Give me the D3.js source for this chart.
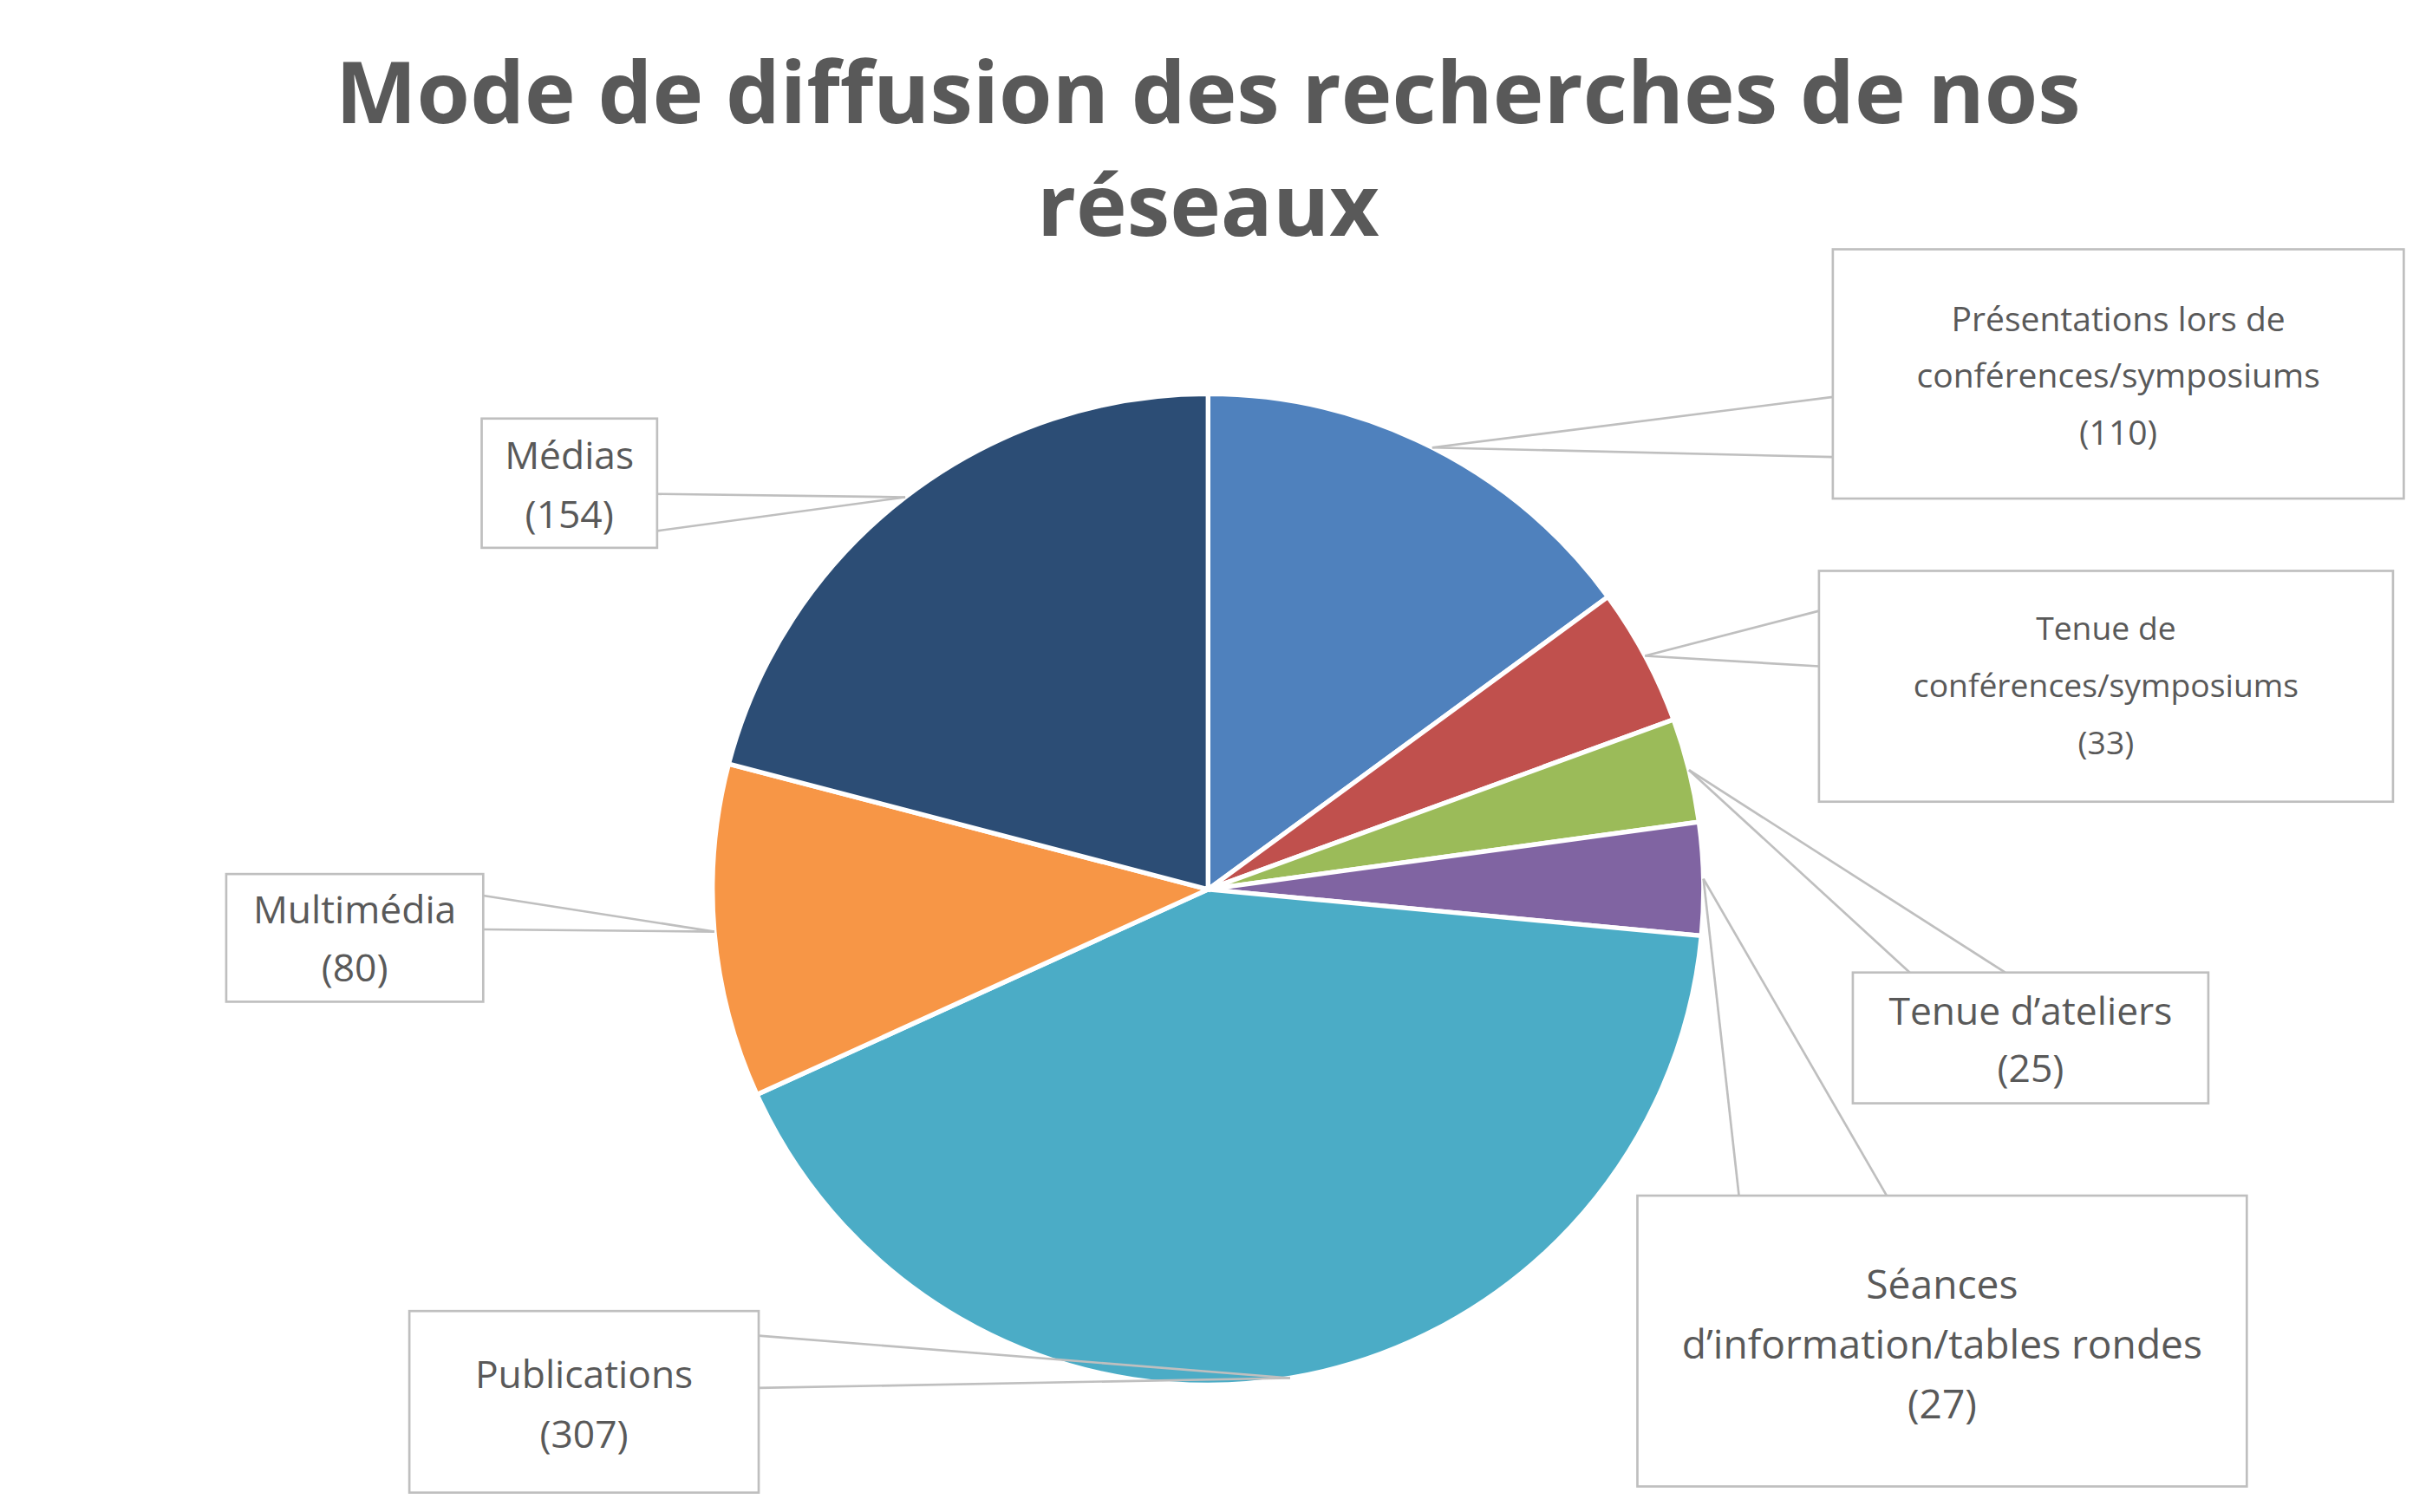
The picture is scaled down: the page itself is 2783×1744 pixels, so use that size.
<!DOCTYPE html>
<html><head><meta charset="utf-8">
<script src="https://cdn.jsdelivr.net/npm/d3@7"></script>
<style>html,body{margin:0;background:#fff}</style>
</head><body><div id="chart"></div>
<script>
var categories = ['Présentations lors de conférences/symposiums', 'Tenue de conférences/symposiums', 'Tenue d’ateliers',
  'Séances d’information/tables rondes', 'Publications', 'Multimédia', 'Médias'];
var values = [110, 33, 25, 27, 307, 80, 154];
var colors = ['#4F81BD', '#C0504D', '#9BBB59', '#8064A2', '#4BACC6', '#F79646', '#2C4D75'];
var labelLines = [
  ['Présentations lors de', 'conférences/symposiums', '(110)'],
  ['Tenue de', 'conférences/symposiums', '(33)'],
  ['Tenue d’ateliers', '(25)'],
  ['Séances', 'd’information/tables rondes', '(27)'],
  ['Publications', '(307)'],
  ['Multimédia', '(80)'],
  ['Médias', '(154)']
];
// label box layout: x0,y0,x1,y1, font size, first baseline, line gap, two attach points
var boxes = [
  {b:[1191,162,1562,324], fs:22, y:215, gap:37, a:[[1191,258],[1191,297]]},
  {b:[1182,371,1555,521], fs:21, y:416, gap:37, a:[[1182,397],[1182,433]]},
  {b:[1204,632,1435,717], fs:25, y:666, gap:37, a:[[1241,632],[1303,632]]},
  {b:[1064,777,1460,966], fs:26, y:844, gap:39, a:[[1130,777],[1226,777]]},
  {b:[266,852,493,970], fs:25, y:902, gap:39, a:[[493,868],[493,902]]},
  {b:[147,568,314,651], fs:25, y:600, gap:38, a:[[314,582],[314,604]]},
  {b:[313,272,427,356], fs:25, y:305, gap:38, a:[[427,321],[427,345]]}
];

var W = 1568, H = 982.6, cx = 785, cy = 578, R = 322;
var svg = d3.select('#chart').append('svg')
  .attr('width', 2783).attr('height', 1744)
  .attr('viewBox', '0 0 ' + W + ' ' + H)
  .style('font-family', '"Open Sans", sans-serif');

svg.append('text').attr('x', cx).attr('y', 80).attr('text-anchor', 'middle')
  .attr('font-size', 56).attr('font-weight', 700).attr('fill', '#595959')
  .text('Mode de diffusion des recherches de nos');
svg.append('text').attr('x', cx).attr('y', 153).attr('text-anchor', 'middle')
  .attr('font-size', 56).attr('font-weight', 700).attr('fill', '#595959')
  .text('réseaux');

var pie = d3.pie().sort(null).value(function(d){ return d; });
var arcs = pie(values);
var arc = d3.arc().innerRadius(0).outerRadius(R);

var g = svg.append('g').attr('transform', 'translate(' + cx + ',' + cy + ')');
g.selectAll('path').data(arcs).enter().append('path')
  .attr('d', arc)
  .attr('fill', function(d, i){ return colors[i]; })
  .attr('stroke', '#fff').attr('stroke-width', 3);

arcs.forEach(function(d, i) {
  var m = (d.startAngle + d.endAngle) / 2;
  var px = cx + Math.sin(m) * R, py = cy - Math.cos(m) * R;
  var bx = boxes[i];
  bx.a.forEach(function(p) {
    svg.append('line').attr('x1', px).attr('y1', py).attr('x2', p[0]).attr('y2', p[1])
      .attr('stroke', '#bfbfbf').attr('stroke-width', 1.5);
  });
  svg.append('rect').attr('x', bx.b[0]).attr('y', bx.b[1])
    .attr('width', bx.b[2] - bx.b[0]).attr('height', bx.b[3] - bx.b[1])
    .attr('fill', '#fff').attr('stroke', '#bfbfbf').attr('stroke-width', 1.5);
  var mx = (bx.b[0] + bx.b[2]) / 2;
  labelLines[i].forEach(function(t, j) {
    svg.append('text').attr('x', mx).attr('y', bx.y + j * bx.gap)
      .attr('text-anchor', 'middle').attr('font-size', bx.fs).attr('fill', '#595959').text(t);
  });
});
</script>
</body></html>
